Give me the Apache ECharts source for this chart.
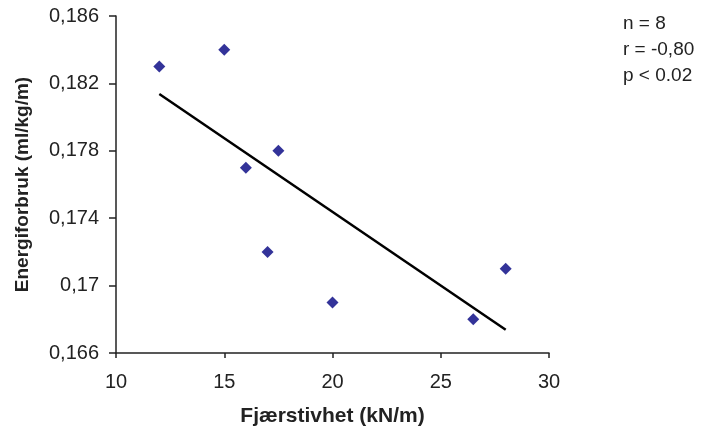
<!DOCTYPE html>
<html>
<head>
<meta charset="utf-8">
<script src="https://cdn.jsdelivr.net/npm/echarts@6/dist/echarts.min.js"></script>
<style>html,body{margin:0;padding:0;background:#fff}#c{width:707px;height:429px}</style>
</head>
<body>
<div id="c"></div>
<script>
const xValues = [12, 15, 16, 17.5, 17, 20, 26.5, 28];
const yValues = [0.183, 0.184, 0.177, 0.178, 0.172, 0.169, 0.168, 0.171];
const statsLines = ['n = 8', 'r = -0,80', 'p < 0.02'];
const xAxisTitle = 'Fjærstivhet (kN/m)';
const yAxisTitle = 'Energiforbruk (ml/kg/m)';

// least-squares trend line computed from the data
const n = xValues.length;
const mx = xValues.reduce((a, b) => a + b, 0) / n;
const my = yValues.reduce((a, b) => a + b, 0) / n;
let sxy = 0, sxx = 0;
for (let i = 0; i < n; i++) { sxy += (xValues[i] - mx) * (yValues[i] - my); sxx += (xValues[i] - mx) ** 2; }
const slope = sxy / sxx, icpt = my - slope * mx;
const xMin = Math.min(...xValues), xMax = Math.max(...xValues);
const trend = [[xMin, icpt + slope * xMin], [xMax, icpt + slope * xMax]];

const font = '"Liberation Sans", Arial, sans-serif';
const chart = echarts.init(document.getElementById('c'));
chart.setOption({
  animation: false,
  grid: { left: 116, right: 158, top: 16, bottom: 76, containLabel: false, outerBoundsMode: 'none' },
  xAxis: {
    type: 'value', min: 10, max: 30, interval: 5,
    name: xAxisTitle, nameLocation: 'middle', nameGap: 53,
    nameTextStyle: { fontFamily: font, fontWeight: 'bold', fontSize: 21, color: '#222' },
    axisLine: { lineStyle: { color: '#222', width: 1.5 } },
    axisTick: { length: 5, lineStyle: { color: '#222', width: 1.5 } },
    axisLabel: { fontFamily: font, fontSize: 20, color: '#222', margin: 19 },
    splitLine: { show: false }
  },
  yAxis: {
    type: 'value', min: 0.166, max: 0.186, interval: 0.004,
    name: yAxisTitle, nameLocation: 'middle', nameGap: 84, nameRotate: 90,
    nameTextStyle: { fontFamily: font, fontWeight: 'bold', fontSize: 19, color: '#222' },
    axisLine: { show: true, lineStyle: { color: '#222', width: 1.5 } },
    axisTick: { show: true, length: 7, lineStyle: { color: '#222', width: 1.5 } },
    axisLabel: { fontFamily: font, fontSize: 20, color: '#222', margin: 17,
      formatter: v => Number(v.toFixed(3)).toString().replace('.', ',') },
    splitLine: { show: false }
  },
  series: [
    { type: 'line', data: trend, symbol: 'none', lineStyle: { color: '#000', width: 2.5 }, z: 2 },
    { type: 'scatter', data: xValues.map((x, i) => [x, yValues[i]]), symbol: 'diamond', symbolSize: [12, 12],
      itemStyle: { color: '#000080' }, z: 3 }
  ],
  graphic: statsLines.map((t, i) => ({
    type: 'text', left: 623, top: 14 + i * 26,
    style: { text: t, font: '19px ' + font, fill: '#222' }
  }))
});
</script>
</body>
</html>
